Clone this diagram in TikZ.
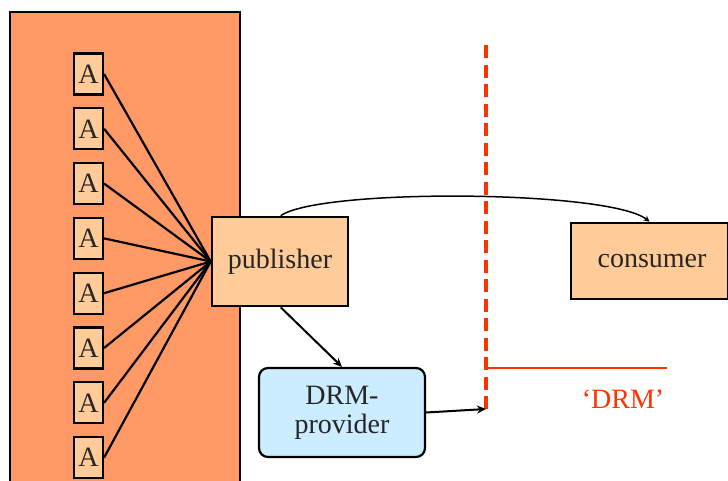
\documentclass[tikz,border=0pt]{standalone}
\usepackage{fontspec}
\setmainfont{Liberation Serif}
\usetikzlibrary{arrows.meta,calc}
\definecolor{domainfill}{HTML}{FF9966}
\definecolor{partyfill}{HTML}{FFCC99}
\definecolor{providerfill}{HTML}{CCECFF}
\definecolor{drmred}{HTML}{FF3300}
\tikzset{
  txt/.style={font=\fontsize{28}{31}\selectfont, text=black!85},
  abox/.style={draw, line width=2.2pt, fill=partyfill, minimum width=29, minimum height=41, inner sep=0pt, txt},
  party/.style={draw, line width=2.6pt, fill=partyfill, inner sep=0pt, txt},
  provider/.style={draw, line width=2.2pt, fill=providerfill, rounded corners=9, inner sep=0pt, align=center, txt},
  wire/.style={line width=2.2pt},
  flow/.style={line width=2pt, -{Stealth[length=9pt, width=8pt]}},
  border/.style={drmred, line width=4pt, dash pattern=on 13pt off 6.5pt},
}
\begin{document}
\begin{tikzpicture}[x=1pt, y=-1pt]
  \useasboundingbox (0,0) rectangle (728,480);
  % content domain
  \draw[fill=domainfill, line width=2.6pt] (10,12) rectangle (240,500);
  % items inside the domain
  \foreach \i in {1,...,8} {
    \node[abox] (a\i) at (88.5, {74 + 54.8*(\i-1)}) {A};
  }
  % parties
  \node[party, minimum width=136, minimum height=89] (pub) at (280,261.5) {\raisebox{-3pt}{publisher}};
  \node[party, minimum width=157, minimum height=76] (cons) at (649.5,261) {\raisebox{-3pt}{\hspace{5pt}consumer}};
  \node[provider, minimum width=166, minimum height=89] (prov) at (342,412.5) {DRM-\\[-2pt]provider};
  % items feed the publisher
  \foreach \i in {1,...,8} {
    \draw[wire] (a\i.east) -- (pub.west);
  }
  % boundary of the DRM zone
  \coordinate (btop) at (486,45);
  \coordinate (bfoot) at (486,409);
  \coordinate (bcorner) at (486,368);
  \coordinate (bend) at (667,368);
  \draw[border] (btop) -- (bfoot);
  \draw[drmred, line width=1.5pt] (bcorner) -- (bend);
  \node[txt, text=drmred] (drmlabel) at (623,399) {‘DRM’};
  % delivery from publisher to consumer
  \coordinate (pubtop) at ($(pub.north west)+(70,0)$);
  \draw[line width=1.5pt, -{Stealth[length=6pt, width=6pt]}] (pubtop) .. controls (320,188) and (610,190) .. (cons.north);
  % publisher hands over to the provider
  \coordinate (pubfoot) at ($(pub.south west)+(70,0)$);
  \draw[flow] (pubfoot) -- (prov.north);
  \draw[flow] (prov.east) -- (bfoot);
\end{tikzpicture}
\end{document}
